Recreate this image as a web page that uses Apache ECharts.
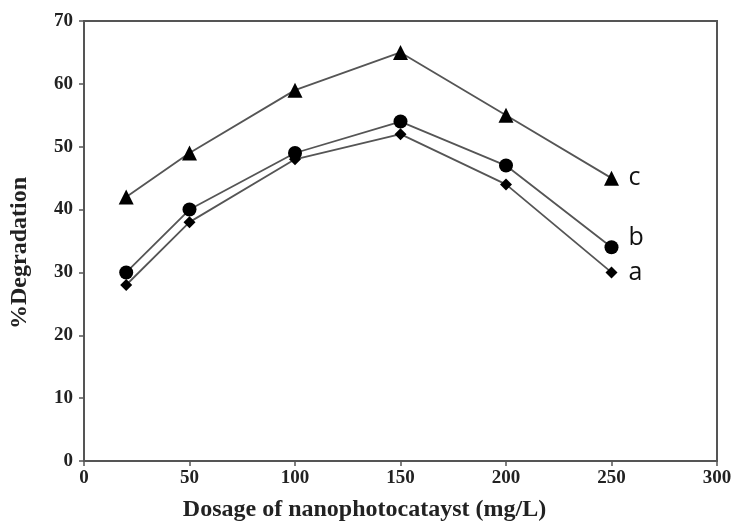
<!DOCTYPE html>
<html>
<head>
<meta charset="utf-8">
<script src="https://cdn.jsdelivr.net/npm/echarts@6/dist/echarts.min.js"></script>
<style>html,body{margin:0;padding:0;background:#fff;}#c{width:734px;height:522px;}</style>
</head>
<body>
<div id="c"></div>
<script>
const dosage = [20, 50, 100, 150, 200, 250];
const seriesA = [28, 38, 48, 52, 44, 30];
const seriesB = [30, 40, 49, 54, 47, 34];
const seriesC = [42, 49, 59, 65, 55, 45];
const seriesNames = ['a', 'b', 'c'];
const xTicks = [0, 50, 100, 150, 200, 250, 300];
const yTicks = [0, 10, 20, 30, 40, 50, 60, 70];

const chart = echarts.init(document.getElementById('c'));
const serif = '"Liberation Serif", "DejaVu Serif", serif';
function mk(name, vals, symbol, size, labelOffset) {
  return {
    name: name,
    type: 'line',
    data: dosage.map((x, i) => [x, vals[i]]),
    symbol: symbol,
    symbolSize: size,
    itemStyle: { color: '#000' },
    lineStyle: { color: '#555', width: 1.8 },
    endLabel: {
      show: true,
      formatter: name,
      color: '#111',
      fontFamily: '"Open Sans", "Noto Sans", sans-serif',
      fontSize: 25,
      distance: 17,
      offset: labelOffset
    },
    animation: false,
    z: 3
  };
}
chart.setOption({
  backgroundColor: '#fff',
  animation: false,
  grid: { left: 84, right: 17, top: 21, bottom: 61, show: true, borderColor: '#555', borderWidth: 2, containLabel: false, outerBoundsMode: 'none' },
  xAxis: {
    type: 'value', min: xTicks[0], max: xTicks[xTicks.length - 1], interval: 50,
    name: 'Dosage of nanophotocatayst (mg/L)', nameLocation: 'middle', nameGap: 37,
    nameTextStyle: { fontFamily: serif, fontWeight: 'bold', fontSize: 24, color: '#222', padding: [0, 72, 0, 0] },
    axisLine: { lineStyle: { color: '#555', width: 2 } },
    axisTick: { show: true, length: 5, lineStyle: { color: '#555', width: 1.5 } },
    axisLabel: { fontFamily: serif, fontWeight: 'bold', fontSize: 19, color: '#222', margin: 8 },
    splitLine: { show: false }
  },
  yAxis: {
    type: 'value', min: yTicks[0], max: yTicks[yTicks.length - 1], interval: 10,
    name: '%Degradation', nameLocation: 'middle', nameGap: 52,
    nameTextStyle: { fontFamily: serif, fontWeight: 'bold', fontSize: 24, color: '#222', padding: [0, 24, 0, 0] },
    axisLine: { show: true, lineStyle: { color: '#555', width: 2 } },
    axisTick: { show: true, length: 5, lineStyle: { color: '#555', width: 1.5 } },
    axisLabel: { fontFamily: serif, fontWeight: 'bold', fontSize: 19, color: '#222', margin: 11 },
    splitLine: { show: false }
  },
  series: [
    mk(seriesNames[0], seriesA, 'diamond', 12, [0, 0]),
    mk(seriesNames[1], seriesB, 'circle', 14, [0, -9]),
    mk(seriesNames[2], seriesC, 'triangle', 15, [0, 0])
  ]
});
</script>
</body>
</html>
